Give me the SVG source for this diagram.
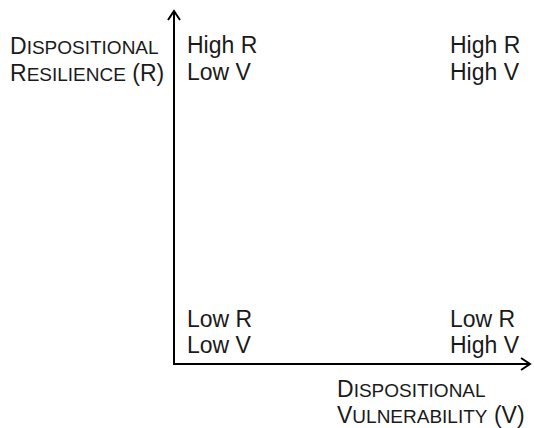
<svg xmlns="http://www.w3.org/2000/svg" width="534" height="428" viewBox="0 0 534 428">
  <style>
    text { font-family: "Liberation Sans", Arial, sans-serif; fill: #1a1a1a; font-size: 23px; }
    .sc { font-size: 19px; }
    .axis { stroke: #000; stroke-width: 2; fill: none; }
  </style>
  <rect width="534" height="428" fill="#fff"/>
  <g id="connectors">
    <path class="axis" d="M174,364 V11 M168,20 L174,11 L180,20"/>
    <path class="axis" d="M173,364 H530 M521,358 L530,364 L521,370"/>
  </g>
  <g id="axis-label-r">
    <text x="10" y="54">D<tspan class="sc">ISPOSITIONAL</tspan></text>
    <text x="10" y="81">R<tspan class="sc">ESILIENCE</tspan> (R)</text>
  </g>
  <g id="axis-label-v">
    <text x="337" y="397">D<tspan class="sc">ISPOSITIONAL</tspan></text>
    <text x="337" y="423">V<tspan class="sc">ULNERABILITY</tspan> (V)</text>
  </g>
  <g id="q-high-r-low-v">
    <text x="187" y="53">High R</text>
    <text x="187" y="80">Low V</text>
  </g>
  <g id="q-high-r-high-v">
    <text x="450" y="53">High R</text>
    <text x="450" y="80">High V</text>
  </g>
  <g id="q-low-r-low-v">
    <text x="187" y="327">Low R</text>
    <text x="187" y="353">Low V</text>
  </g>
  <g id="q-low-r-high-v">
    <text x="450" y="327">Low R</text>
    <text x="450" y="353">High V</text>
  </g>
</svg>
